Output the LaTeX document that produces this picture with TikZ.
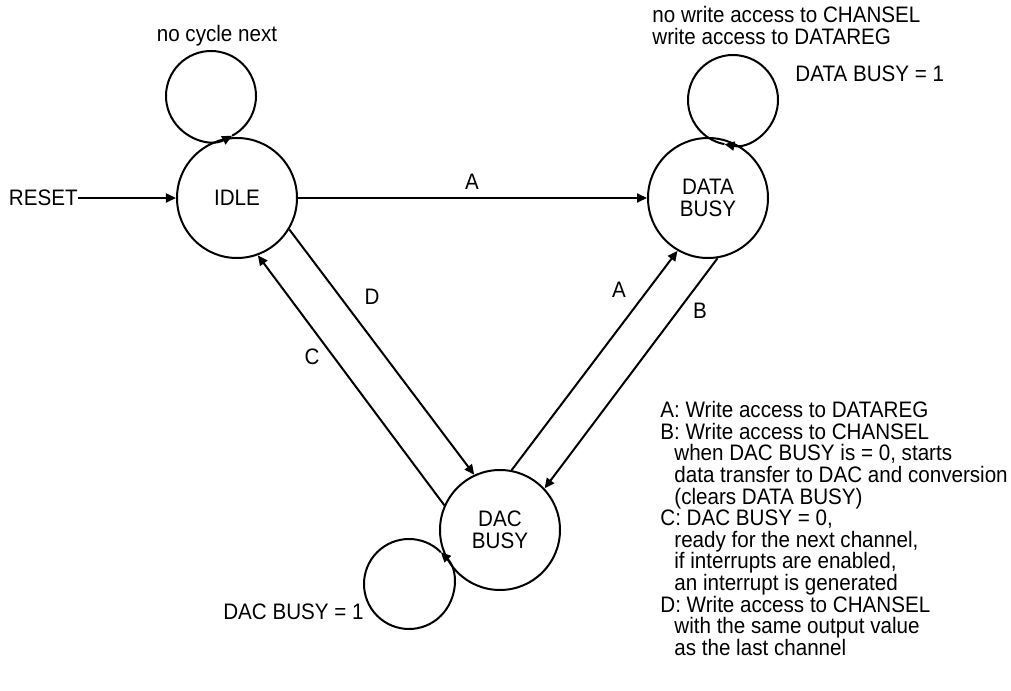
\documentclass[tikz,border=0pt]{standalone}
\usepackage{fontspec}
\setmainfont{Liberation Sans}[FakeStretch=0.92]
\usetikzlibrary{arrows.meta}

\newcommand{\ind}{\hspace*{7bp}}

\begin{document}
\begin{tikzpicture}[x=0.5bp, y=-0.5bp,
  every node/.style={font=\fontsize{11.2bp}{10.8bp}\selectfont},
  state/.style={draw, circle, line width=1bp, minimum size=60bp, inner sep=0pt, align=center},
  arr/.style={line width=1bp, -{Triangle[length=5bp,width=4.5bp]}},
  txt/.style={inner sep=0pt}]
\useasboundingbox (0,0) rectangle (1011,691);

% states
\node[state] (idle) at (237,198) {IDLE};
\node[state] (data) at (708,198) {DATA\\BUSY};
\node[state] (dac) at (500,530) {DAC\\BUSY};

% reset
\node[txt, anchor=east] (reset) at (78,198) {RESET};
\draw[arr] (reset.east) -- (idle.west);

% transitions
\draw[arr] (idle) -- (data);
\draw[arr] (idle.-31) -- (dac.115);
\draw[arr] (dac.156) -- (idle.-70);
\draw[arr] (dac.79) -- (data.-120);
\draw[arr] (data.-81) -- (dac.43);

% self loops
\coordinate (idleloop) at (211,96);
\coordinate (dataloop) at (733,100);
\coordinate (dacloop) at (409,584);
\draw[arr] (idleloop) ++(62:45) arc[start angle=422, end angle=62, radius=45];
\draw[arr] (dataloop) ++(-259:45) arc[start angle=-259, end angle=101, radius=45];
\draw[arr] (dacloop) ++(315:45) arc[start angle=315, end angle=-45, radius=45];

% transition labels
\node[txt] (lblA) at (472,182) {A};
\node[txt] (lblD) at (372,297) {D};
\node[txt] (lblC) at (312,357) {C};
\node[txt] (lblAb) at (619,290) {A};
\node[txt] (lblB) at (700,311) {B};

% notes
\node[txt, anchor=base] (cyclenote) at (217,42) {no cycle next};
\node[txt, anchor=north west, align=left] (writenote) at (652,6)
  {no write access to CHANSEL\\write access to DATAREG};
\node[txt, anchor=base west] (databusy) at (795,82) {DATA BUSY = 1};
\node[txt, anchor=base east] (dacbusy) at (364,619) {DAC BUSY = 1};

% legend
\node[txt, anchor=north west, align=left] (legend) at (660,401)
  {A: Write access to DATAREG\\
   B: Write access to CHANSEL\\
   \ind when DAC BUSY is = 0, starts\\
   \ind data transfer to DAC and conversion\\
   \ind (clears DATA BUSY)\\
   C: DAC BUSY = 0,\\
   \ind ready for the next channel,\\
   \ind if interrupts are enabled,\\
   \ind an interrupt is generated\\
   D: Write access to CHANSEL\\
   \ind with the same output value\\
   \ind as the last channel};
\end{tikzpicture}
\end{document}
